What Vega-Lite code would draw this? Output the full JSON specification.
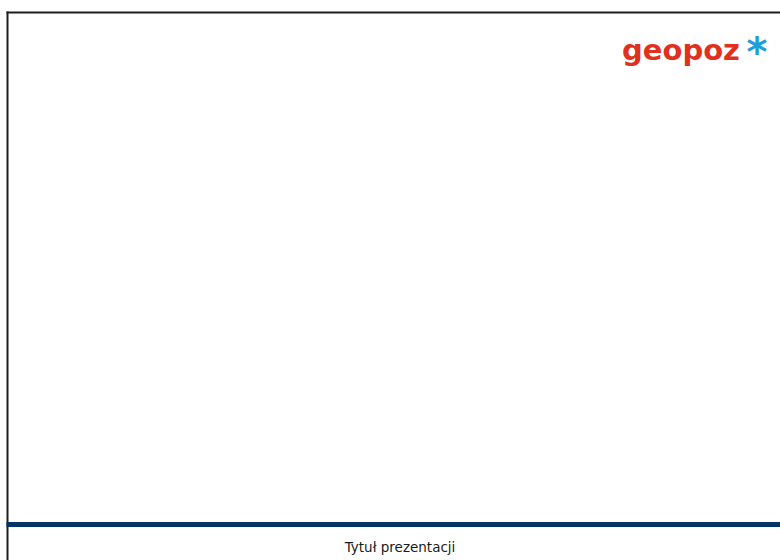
{
  "$schema": "https://vega.github.io/schema/vega-lite/v6.json",
  "width": 780,
  "height": 560,
  "autosize": {"type": "none"},
  "padding": 0,
  "background": "white",
  "config": {"view": {"stroke": null}},
  "layer": [
    {
      "data": {"values": [
        {"part": "left", "x1": 7.5, "y1": 11.5, "x2": 7.5, "y2": 560},
        {"part": "top", "x1": 6.5, "y1": 12.5, "x2": 780, "y2": 12.5}
      ]},
      "mark": {"type": "rule", "strokeWidth": 2, "color": "#1e1e1e"},
      "encoding": {
        "x": {"field": "x1", "type": "quantitative", "scale": {"domain": [0, 780], "nice": false, "zero": false}, "axis": null},
        "x2": {"field": "x2"},
        "y": {"field": "y1", "type": "quantitative", "scale": {"domain": [0, 560], "nice": false, "zero": false, "reverse": true}, "axis": null},
        "y2": {"field": "y2"}
      }
    },
    {
      "data": {"values": [
        {"part": "footer bar", "x1": 6.5, "y1": 524.5, "x2": 780, "y2": 524.5}
      ]},
      "mark": {"type": "rule", "strokeWidth": 5, "color": "#003366"},
      "encoding": {
        "x": {"field": "x1", "type": "quantitative", "scale": {"domain": [0, 780], "nice": false, "zero": false}, "axis": null},
        "x2": {"field": "x2"},
        "y": {"field": "y1", "type": "quantitative", "scale": {"domain": [0, 560], "nice": false, "zero": false, "reverse": true}, "axis": null},
        "y2": {"field": "y2"}
      }
    },
    {
      "data": {"values": [
        {"label": "Tytuł prezentacji", "x": 400, "y": 552}
      ]},
      "mark": {"type": "text", "font": "DejaVu Sans", "fontSize": 13.5, "fontWeight": "normal", "color": "#1a1a1a", "align": "center", "baseline": "alphabetic"},
      "encoding": {
        "x": {"field": "x", "type": "quantitative", "scale": {"domain": [0, 780], "nice": false, "zero": false}, "axis": null},
        "y": {"field": "y", "type": "quantitative", "scale": {"domain": [0, 560], "nice": false, "zero": false, "reverse": true}, "axis": null},
        "text": {"field": "label"}
      }
    },
    {
      "data": {"values": [
        {"label": "geopoz", "x": 681, "y": 60}
      ]},
      "mark": {"type": "text", "font": "DejaVu Sans", "fontSize": 29, "fontWeight": "bold", "color": "#e0301e", "align": "center", "baseline": "alphabetic"},
      "encoding": {
        "x": {"field": "x", "type": "quantitative", "scale": {"domain": [0, 780], "nice": false, "zero": false}, "axis": null},
        "y": {"field": "y", "type": "quantitative", "scale": {"domain": [0, 560], "nice": false, "zero": false, "reverse": true}, "axis": null},
        "text": {"field": "label"}
      }
    },
    {
      "data": {"values": [
        {"label": "*", "x": 757, "y": 66}
      ]},
      "mark": {"type": "text", "font": "DejaVu Sans", "fontSize": 40, "fontWeight": "bold", "color": "#1a9fdb", "align": "center", "baseline": "alphabetic"},
      "encoding": {
        "x": {"field": "x", "type": "quantitative", "scale": {"domain": [0, 780], "nice": false, "zero": false}, "axis": null},
        "y": {"field": "y", "type": "quantitative", "scale": {"domain": [0, 560], "nice": false, "zero": false, "reverse": true}, "axis": null},
        "text": {"field": "label"}
      }
    }
  ]
}
